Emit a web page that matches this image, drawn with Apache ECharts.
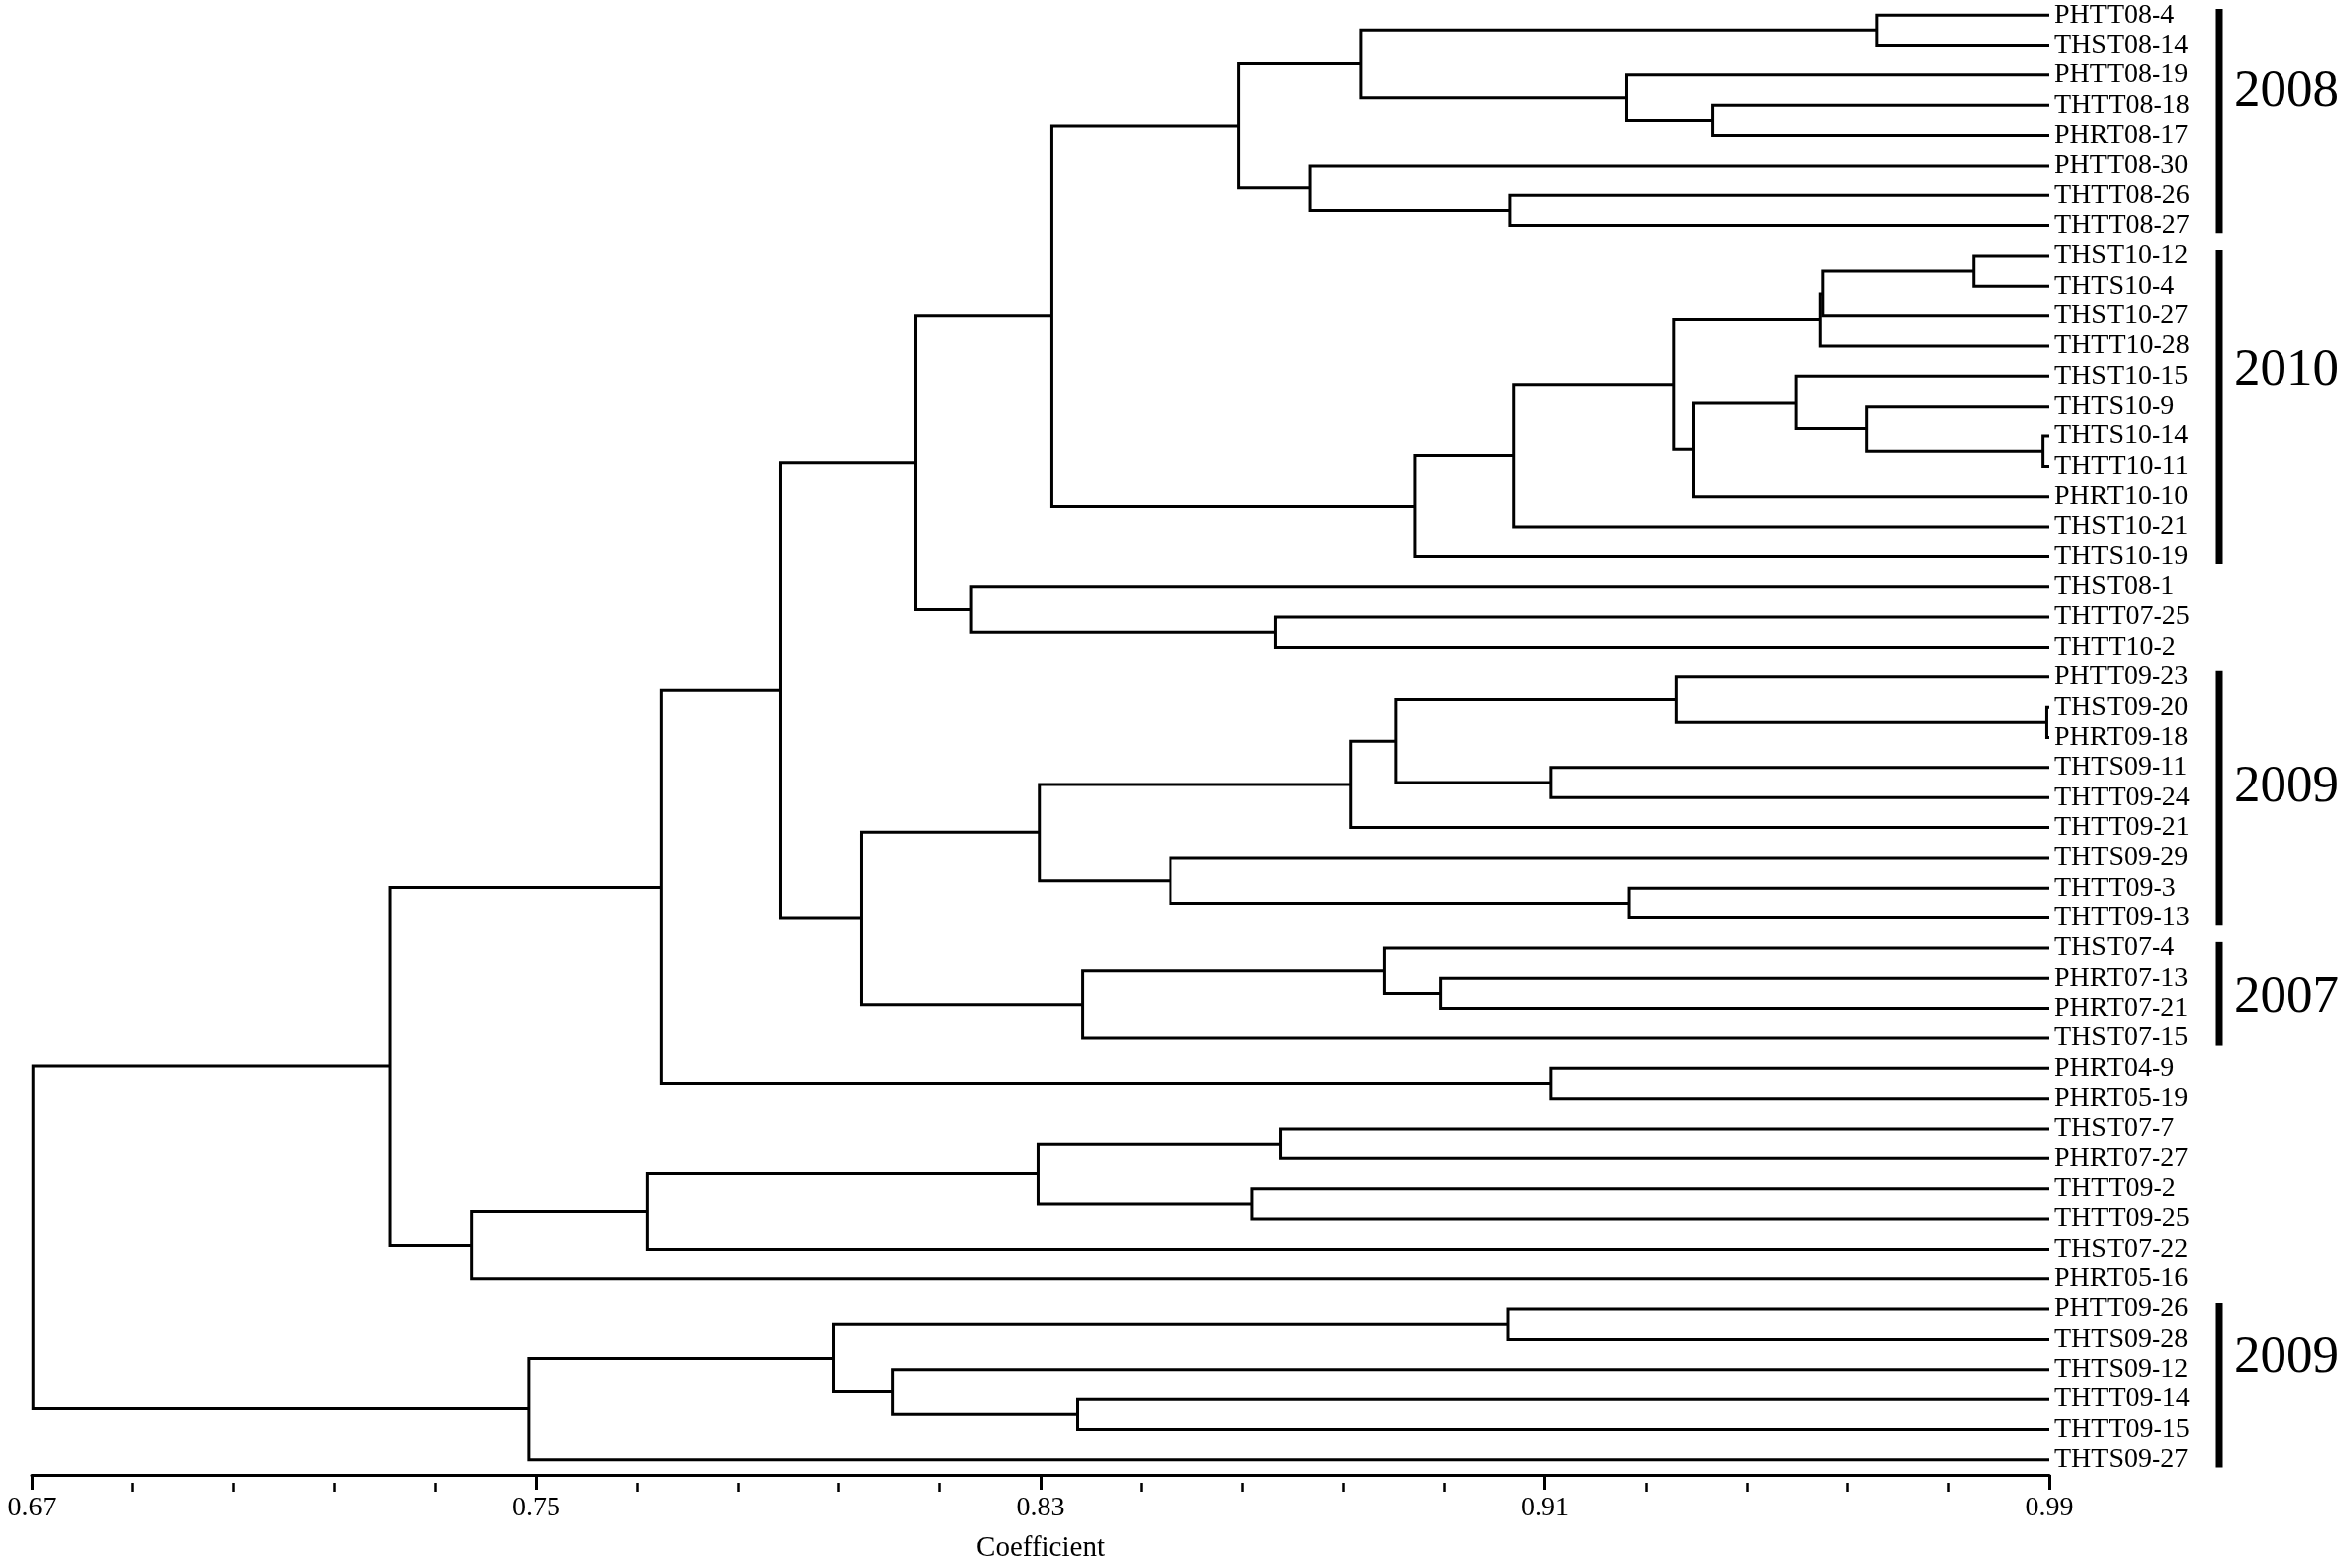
<!DOCTYPE html>
<html>
<head>
<meta charset="utf-8">
<style>
html,body{margin:0;padding:0;background:#fff;}
#chart{width:2362px;height:1581px;}
</style>
<script src="https://cdn.jsdelivr.net/npm/echarts@6/dist/echarts.min.js"></script>
</head>
<body>
<div id="chart"></div>
<script>
// ---------- DATA ----------
const leaves = [
  'PHTT08-4','THST08-14','PHTT08-19','THTT08-18','PHRT08-17','PHTT08-30','THTT08-26','THTT08-27',
  'THST10-12','THTS10-4','THST10-27','THTT10-28','THST10-15','THTS10-9','THTS10-14','THTT10-11',
  'PHRT10-10','THST10-21','THTS10-19','THST08-1','THTT07-25','THTT10-2',
  'PHTT09-23','THST09-20','PHRT09-18','THTS09-11','THTT09-24','THTT09-21','THTS09-29','THTT09-3','THTT09-13',
  'THST07-4','PHRT07-13','PHRT07-21','THST07-15','PHRT04-9','PHRT05-19',
  'THST07-7','PHRT07-27','THTT09-2','THTT09-25','THST07-22','PHRT05-16',
  'PHTT09-26','THTS09-28','THTS09-12','THTT09-14','THTT09-15','THTS09-27'
];

// merge id, left child, right child, coefficient at which they join
const mergeIds    = ['n1','n2','n3','n4','n5','n6','n7','n8','n9','n10','n11','n12','n13','n14','n15','n16',
                     'n17','n18','n19','n20','n21','n22','n23','n24','n25','n26','n27','n28','n29','n30','n31','n32',
                     'n33','n34','n35','n36','n37','n38','n39','n40','n41','n42','n43','n44','n45','n46','n47','n48'];
const mergeLeft   = ['PHTT08-4','THTT08-18','PHTT08-19','n1','THTT08-26','PHTT08-30','n4','THST10-12','n8','n9',
                     'THTS10-14','THTS10-9','THST10-15','n13','n10','n15','n16','n7','THTT07-25','THST08-1','n18',
                     'THST09-20','PHTT09-23','THTS09-11','n23','n25','THTT09-3','THTS09-29','n26','PHRT07-13',
                     'THST07-4','n31','n29','n21','PHRT04-9','n34','THST07-7','THTT09-2','n37','n39','n40','n36',
                     'PHTT09-26','THTT09-14','THTS09-12','n43','n46','n42'];
const mergeRight  = ['THST08-14','PHRT08-17','n2','n3','THTT08-27','n5','n6','THTS10-4','THST10-27','THTT10-28',
                     'THTT10-11','n11','n12','PHRT10-10','n14','THST10-21','THTS10-19','n17','THTT10-2','n19','n20',
                     'PHRT09-18','n22','THTT09-24','n24','THTT09-21','THTT09-13','n27','n28','PHRT07-21',
                     'n30','THST07-15','n32','n33','PHRT05-19','n35','PHRT07-27','THTT09-25','n38','THST07-22',
                     'PHRT05-16','n41','THTS09-28','THTT09-15','n44','n45','THTS09-27','n47'];
const mergeHeight = [0.9626,0.9366,0.9229,0.8808,0.9044,0.8728,0.8614,0.9780,0.9541,0.9537,
                     0.9890,0.9610,0.9499,0.9336,0.9305,0.9050,0.8893,0.8318,0.8672,0.8190,0.8101,
                     0.9896,0.9309,0.9110,0.8863,0.8792,0.9233,0.8506,0.8298,0.8935,
                     0.8845,0.8367,0.8016,0.7887,0.9110,0.7698,0.8680,0.8635,0.8296,0.7676,
                     0.7398,0.7268,0.9041,0.8359,0.8065,0.7972,0.7488,0.6702];

// groups marked by brackets on the right
const groupNames = ['2008','2010','2009','2007','2009'];
const groupFirst = ['PHTT08-4','THST10-12','PHTT09-23','THST07-4','PHTT09-26'];
const groupLast  = ['THTT08-27','THTS10-19','THTT09-13','THST07-15','THTS09-27'];

const tickValues = [0.67, 0.75, 0.83, 0.91, 0.99];
const minorDivisions = 5;
const axisTitle = 'Coefficient';

// ---------- LAYOUT (derived) ----------
const xMin = tickValues[0], xMax = tickValues[tickValues.length - 1];
const pos = {};
leaves.forEach((n, i) => { pos[n] = [xMax, i]; });
const treeData = mergeIds.map((id, k) => {
  const a = pos[mergeLeft[k]], b = pos[mergeRight[k]], h = mergeHeight[k];
  pos[id] = [h, (a[1] + b[1]) / 2];
  return [h, a[0], a[1], b[0], b[1]];
});
const minorTicks = [];
for (let i = 0; i < tickValues.length - 1; i++) {
  const step = (tickValues[i + 1] - tickValues[i]) / minorDivisions;
  for (let j = 1; j < minorDivisions; j++) minorTicks.push(+(tickValues[i] + j * step).toFixed(4));
}
const leafIdx = {};
leaves.forEach((n, i) => leafIdx[n] = i);
const groupData = groupNames.map((g, i) => [leafIdx[groupFirst[i]], leafIdx[groupLast[i]], i]);

// ---------- STYLE ----------
const FONT = 'Liberation Serif, Times New Roman, serif';
const labelShift = [-0.92, -1.16, -0.33, 0.14, -0.9]; // where the year text sits relative to the group middle
const barOffset = 171;   // px right of the axis end
const barWidth = 7;
const textGap = 15;
const GRID = {left: 32, right: 296, top: 0, bottom: 86, containLabel: false};

const chart = echarts.init(document.getElementById('chart'), null, {renderer: 'canvas'});
chart.setOption({
  backgroundColor: '#fff',
  animation: false,
  grid: [Object.assign({}, GRID), Object.assign({}, GRID)],
  xAxis: [{
    gridIndex: 0, type: 'value', min: xMin, max: xMax, position: 'bottom',
    axisLine: {show: true, onZero: false, lineStyle: {color: '#000', width: 3}},
    axisTick: {show: true, customValues: tickValues, length: 15, lineStyle: {color: '#000', width: 3}},
    axisLabel: {show: true, customValues: tickValues, formatter: v => v.toFixed(2), color: '#000',
                fontFamily: FONT, fontSize: 28, margin: 20},
    splitLine: {show: false},
    name: axisTitle, nameLocation: 'middle', nameGap: 60,
    nameTextStyle: {color: '#000', fontFamily: FONT, fontSize: 29}
  }, {
    gridIndex: 1, type: 'value', min: xMin, max: xMax, position: 'bottom',
    axisLine: {show: false, onZero: false},
    axisTick: {show: true, customValues: minorTicks, length: 9, lineStyle: {color: '#000', width: 2.5}},
    axisLabel: {show: false},
    splitLine: {show: false}
  }],
  yAxis: [{
    gridIndex: 0, type: 'value', min: -0.5, max: leaves.length - 0.5, inverse: true, show: false
  }, {
    gridIndex: 0, type: 'category', data: leaves, inverse: true, position: 'right', boundaryGap: true,
    axisLine: {show: false, onZero: false}, axisTick: {show: false}, splitLine: {show: false},
    axisLabel: {show: true, interval: 0, margin: 5, color: '#000', fontFamily: FONT, fontSize: 28}
  }, {
    gridIndex: 1, type: 'value', min: -0.5, max: leaves.length - 0.5, inverse: true, show: false
  }],
  series: [{
    type: 'custom', xAxisIndex: 0, yAxisIndex: 0, clip: false,
    data: treeData,
    encode: {x: [0, 1, 3], y: [2, 4]},
    renderItem: (params, api) => {
      const h = api.value(0), xa = api.value(1), ya = api.value(2), xb = api.value(3), yb = api.value(4);
      return {
        type: 'polyline',
        shape: {points: [api.coord([xa, ya]), api.coord([h, ya]), api.coord([h, yb]), api.coord([xb, yb])]},
        style: {stroke: '#000', lineWidth: 3, fill: null, lineJoin: 'miter'}
      };
    }
  }, {
    type: 'custom', xAxisIndex: 0, yAxisIndex: 0, clip: false,
    data: groupData,
    encode: {y: [0, 1]},
    renderItem: (params, api) => {
      const s = api.value(0), e = api.value(1), gi = api.value(2);
      const xEnd = api.coord([xMax, s])[0];
      const bx = xEnd + barOffset;
      const y0 = api.coord([xMax, s - 0.2])[1];
      const y1 = api.coord([xMax, e + 0.25])[1];
      const ty = api.coord([xMax, (s + e) / 2 + labelShift[gi]])[1];
      return {
        type: 'group',
        children: [{
          type: 'rect',
          shape: {x: bx - barWidth / 2, y: y0, width: barWidth, height: y1 - y0},
          style: {fill: '#000'}
        }, {
          type: 'text',
          style: {text: groupNames[gi], x: bx + textGap, y: ty, fill: '#000',
                  font: '53px ' + FONT, verticalAlign: 'middle', align: 'left'}
        }]
      };
    }
  }]
});
</script>
</body>
</html>
